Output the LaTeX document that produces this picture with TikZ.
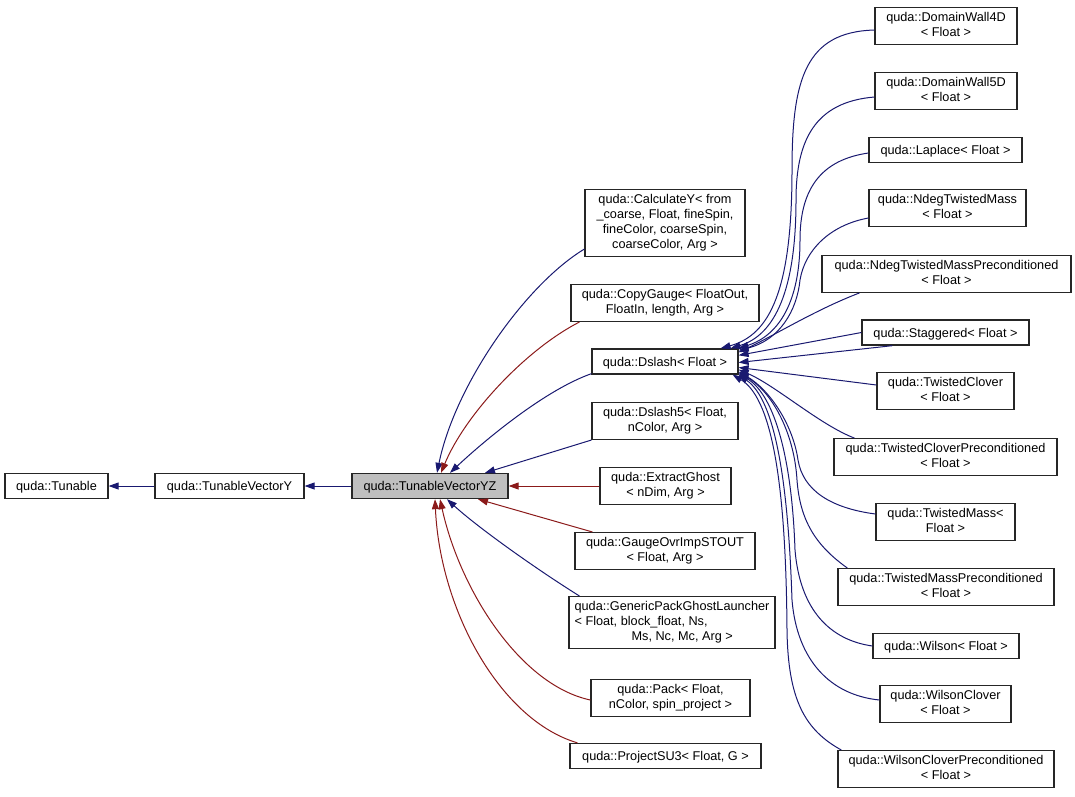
\documentclass[tikz,border=0pt]{standalone}
\usepackage{fontspec}
\setmainfont{Liberation Sans}
\usetikzlibrary{arrows.meta}

\definecolor{pubblue}{RGB}{25,25,112}
\definecolor{privred}{RGB}{139,26,26}
\newcommand{\boxstrut}{\rule[-2.5pt]{0pt}{15pt}}

\begin{document}
\begin{tikzpicture}[x=1pt, y=-1pt]
    \tikzset{
        >={Triangle[length=10pt, width=7pt]}, % filled inheritance tip
        cls/.style={draw=black!85, line width=1.2pt, fill=white, align=center,
            font=\fontsize{12.7}{15}\selectfont, inner xsep=2pt, inner ysep=5pt,
            execute at begin node=\boxstrut, execute at end node=\boxstrut}, % one box per class
        cur/.style={cls, fill=black!25}, % the class the graph is about
        pub/.style={->, draw=pubblue, line width=1pt}, % public inheritance
        priv/.style={->, draw=privred, line width=1pt}, % private inheritance
    }
    \useasboundingbox (0,0) rectangle (1075,796);

    % base classes
    \node[cls, minimum width=103] (tunable) at (56.5,486) {quda::Tunable};
    \node[cls, minimum width=149] (tvy) at (229.5,486) {quda::TunableVectorY};
    \node[cur, minimum width=156] (tvyz) at (430,486) {quda::TunableVectorYZ};

    % direct children
    \node[cls, minimum width=160] (calcy) at (665,223) {quda::CalculateY< from\\\_coarse, Float, fineSpin,\\fineColor, coarseSpin,\\coarseColor, Arg >};
    \node[cls, minimum width=188] (copyg) at (665,303) {quda::CopyGauge< FloatOut,\\FloatIn, length, Arg >};
    \node[cls, minimum width=146] (dslash) at (665,361.5) {quda::Dslash< Float >};
    \node[cls, minimum width=146] (dslash5) at (665,421) {quda::Dslash5< Float,\\nColor, Arg >};
    \node[cls, minimum width=131] (extract) at (665.5,486) {quda::ExtractGhost\\< nDim, Arg >};
    \node[cls, minimum width=180] (gauge) at (665,551) {quda::GaugeOvrImpSTOUT\\< Float, Arg >};
    \node[cls, minimum width=206, align=left] (genpack) at (672,622.5) {quda::GenericPackGhostLauncher\\< Float, block\_float, Ns,\\\hspace*{57pt}Ms, Nc, Mc, Arg >};
    \node[cls, minimum width=159] (pack) at (670.5,698) {quda::Pack< Float,\\nColor, spin\_project >};
    \node[cls, minimum width=191] (projsu3) at (665.5,756) {quda::ProjectSU3< Float, G >};

    % children of Dslash
    \node[cls, minimum width=142] (dw4) at (946,26) {quda::DomainWall4D\\< Float >};
    \node[cls, minimum width=142] (dw5) at (946,91) {quda::DomainWall5D\\< Float >};
    \node[cls, minimum width=153] (laplace) at (945.5,150) {quda::Laplace< Float >};
    \node[cls, minimum width=157] (ndegtm) at (947.5,208) {quda::NdegTwistedMass\\< Float >};
    \node[cls, minimum width=249] (ndegtmp) at (946.5,274) {quda::NdegTwistedMassPreconditioned\\< Float >};
    \node[cls, minimum width=167] (stag) at (945.5,332.5) {quda::Staggered< Float >};
    \node[cls, minimum width=137] (tclov) at (945.5,391) {quda::TwistedClover\\< Float >};
    \node[cls, minimum width=223] (tclovp) at (945.5,457) {quda::TwistedCloverPreconditioned\\< Float >};
    \node[cls, minimum width=139] (tmass) at (945.5,522) {quda::TwistedMass<\\Float >};
    \node[cls, minimum width=216] (tmassp) at (946,587) {quda::TwistedMassPreconditioned\\< Float >};
    \node[cls, minimum width=146] (wilson) at (946,646) {quda::Wilson< Float >};
    \node[cls, minimum width=131] (wclov) at (945.5,704) {quda::WilsonClover\\< Float >};
    \node[cls, minimum width=216] (wclovp) at (946,769) {quda::WilsonCloverPreconditioned\\< Float >};

    % inheritance towards the bases
    \draw[pub] (tvy) -- (tunable);
    \draw[pub] (tvyz) -- (tvy);

    % children of TunableVectorYZ
    \draw[pub] ([yshift=8]calcy.south west) .. controls (525,285) and (455,385) .. ([xshift=7]tvyz.north);
    \draw[priv] ([xshift=9]copyg.south west) .. controls (525,350) and (465,415) .. ([xshift=11]tvyz.north);
    \draw[pub] ([yshift=1]dslash.south west) .. controls (545,390) and (485,440) .. ([xshift=20]tvyz.north);
    \draw[pub] (dslash5.south west) -- ([xshift=55]tvyz.north);
    \draw[priv] (extract) -- (tvyz);
    \draw[priv] ([xshift=18]gauge.north west) -- ([xshift=48]tvyz.south);
    \draw[pub] ([xshift=11]genpack.north west) .. controls (530,565) and (475,525) .. ([xshift=17]tvyz.south);
    \draw[priv] ([yshift=-2]pack.west) .. controls (520,685) and (460,590) .. ([xshift=10]tvyz.south);
    \draw[priv] ([xshift=8]projsu3.north west) .. controls (500,720) and (440,610) .. ([xshift=5]tvyz.south);

    % children of Dslash, upper bundle
    \draw[pub] ([yshift=-4]dw4.west) .. controls (805,32) and (792,80) .. (792,170)
        .. controls (792,290) and (770,335) .. ([xshift=-18]dslash.north east);
    \draw[pub] ([yshift=-6]dw5.west) .. controls (815,102) and (796,140) .. (796,200)
        .. controls (796,290) and (775,335) .. ([xshift=-8]dslash.north east);
    \draw[pub] ([yshift=-3]laplace.west) .. controls (820,160) and (800,190) .. (800,240)
        .. controls (800,300) and (780,335) .. (dslash.north east);
    \draw[pub] ([yshift=-10]ndegtm.west) .. controls (830,225) and (805,250) .. (800,280)
        .. controls (797,310) and (780,340) .. ([yshift=-2]dslash.north east);
    \draw[pub] ([xshift=38]ndegtmp.south west) .. controls (815,310) and (775,335) .. ([yshift=-4]dslash.north east);
    \draw[pub] (stag.west) -- ([yshift=-7]dslash.north east);
    \draw[pub] ([xshift=31]stag.south west) -- ([yshift=-1]dslash.east);
    \draw[pub] ([yshift=6]tclov.west) -- ([yshift=-6]dslash.east);
    % children of Dslash, lower bundle
    \draw[pub] ([xshift=21]tclovp.north west) .. controls (820,425) and (775,385) .. ([yshift=5]dslash.south east);
    \draw[pub] ([yshift=8]tmass.west) .. controls (830,508) and (803,490) .. (798,460)
        .. controls (793,425) and (770,390) .. ([yshift=3]dslash.south east);
    \draw[pub] ([xshift=10]tmassp.north west) .. controls (815,545) and (800,520) .. (797,480)
        .. controls (794,430) and (770,390) .. ([yshift=2]dslash.south east);
    \draw[pub] (wilson.west) .. controls (830,640) and (800,610) .. (795,550)
        .. controls (792,460) and (775,395) .. ([yshift=1]dslash.south east);
    \draw[pub] ([yshift=4]wclov.west) .. controls (830,695) and (797,660) .. (792,600)
        .. controls (788,480) and (775,400) .. (dslash.south east);
    \draw[pub] ([xshift=4]wclovp.north west) .. controls (805,730) and (788,700) .. (787,630)
        .. controls (786,500) and (775,400) .. ([xshift=-6]dslash.south east);
\end{tikzpicture}
\end{document}
